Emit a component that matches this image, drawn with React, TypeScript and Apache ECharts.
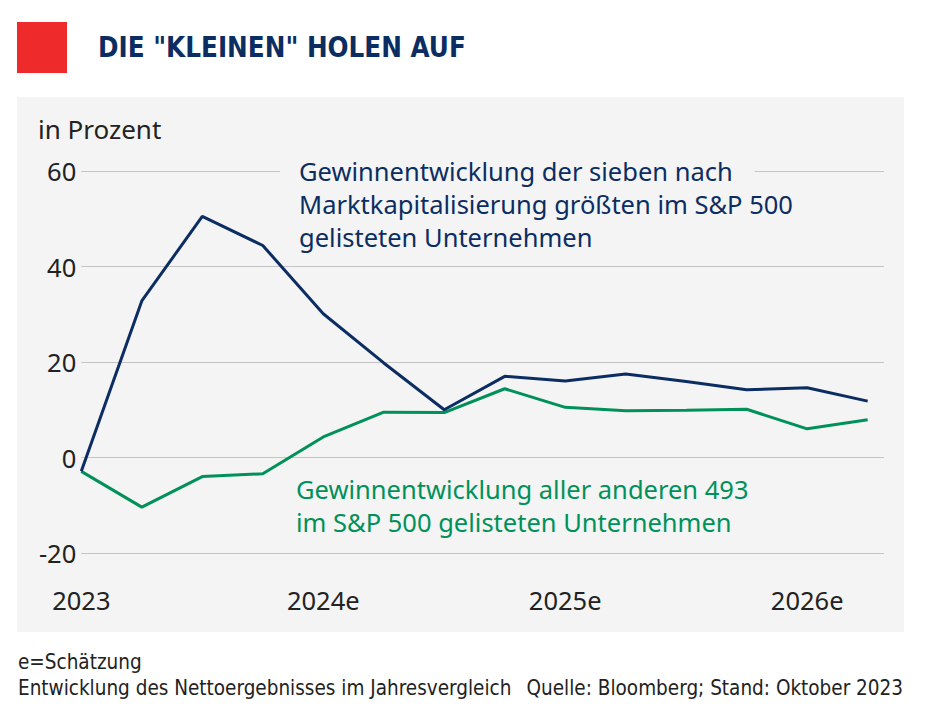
import React, { useEffect, useRef } from "react";
import * as echarts from "echarts";

const quarters = [
  "Q1 2023", "Q2 2023", "Q3 2023", "Q4 2023",
  "Q1 2024e", "Q2 2024e", "Q3 2024e", "Q4 2024e",
  "Q1 2025e", "Q2 2025e", "Q3 2025e", "Q4 2025e",
  "Q1 2026e", "Q2 2026e",
];
const magnificentSeven = [-2.9, 32.8, 50.5, 44.4, 30.1, 19.8, 10.0, 17.0, 16.0, 17.5, 15.9, 14.2, 14.6, 11.8];
const otherCompanies = [-2.9, -10.4, -4.0, -3.4, 4.3, 9.5, 9.4, 14.4, 10.5, 9.8, 9.9, 10.1, 6.0, 7.9];
const yearLabels = ["2023", "2024e", "2025e", "2026e"];
const yTicks = [-20, 0, 20, 40, 60];

const TITLE = 'DIE "KLEINEN" HOLEN AUF';
const UNIT = "in Prozent";
const BLUE_TEXT = [
  "Gewinnentwicklung der sieben nach",
  "Marktkapitalisierung größten im S&P 500",
  "gelisteten Unternehmen",
];
const GREEN_TEXT = [
  "Gewinnentwicklung aller anderen 493",
  "im S&P 500 gelisteten Unternehmen",
];
const NOTE1 = "e=Schätzung";
const NOTE2 = "Entwicklung des Nettoergebnisses im Jahresvergleich";
const SOURCE = "Quelle: Bloomberg; Stand: Oktober 2023";

const NAVY = "#0b2d62";
const GREEN = "#00915a";
const SANS = "'Noto Sans', 'Open Sans', sans-serif";
const NARROW = "'Liberation Sans Narrow', 'DejaVu Sans Condensed', 'Roboto', sans-serif";
const ANNO = 25.5;

export default function App() {
  const ref = useRef<HTMLDivElement>(null);
  useEffect(() => {
    if (!ref.current) return;
    const chart = echarts.init(ref.current, undefined, { renderer: "svg" });
    const option: any = {
      animation: false,
      backgroundColor: "#ffffff",
      grid: { left: 81.3, right: 42, top: 171, bottom: 156, containLabel: false },
      xAxis: {
        type: "value",
        min: 0,
        max: 13.27,
        interval: 4,
        axisLine: { show: false },
        axisTick: { show: false },
        splitLine: { show: false },
        axisLabel: {
          showMaxLabel: false,
          margin: 34,
          fontSize: 25.5,
          color: "#222",
          fontFamily: SANS,
          formatter: (v: number) => (v % 4 === 0 ? yearLabels[v / 4] ?? "" : ""),
        },
      },
      yAxis: {
        type: "value",
        min: yTicks[0],
        max: yTicks[yTicks.length - 1],
        interval: 20,
        axisLine: { show: false },
        axisTick: { show: false },
        splitLine: { show: true, lineStyle: { color: "#c4c4c4", width: 1 } },
        axisLabel: { margin: 5, fontSize: 25.5, color: "#222", fontFamily: SANS },
      },
      series: [
        {
          name: "Magnificent 7",
          type: "line",
          data: quarters.map((_, i) => [i, magnificentSeven[i]]),
          showSymbol: false,
          lineStyle: { color: NAVY, width: 3 },
          itemStyle: { color: NAVY },
          z: 3,
        },
        {
          name: "Übrige 493",
          type: "line",
          data: quarters.map((_, i) => [i, otherCompanies[i]]),
          showSymbol: false,
          lineStyle: { color: GREEN, width: 3 },
          itemStyle: { color: GREEN },
          z: 2,
        },
      ],
      graphic: [
        { type: "rect", z: -10, shape: { x: 17, y: 97, width: 887, height: 535 }, style: { fill: "#f4f4f4" } },
        { type: "rect", z: 1, shape: { x: 17, y: 22, width: 50, height: 51 }, style: { fill: "#ee2a2a" } },
        {
          type: "text", z: 5, x: 98, y: 47.5, scaleX: 0.948,
          style: { text: TITLE, fill: NAVY, font: `bold 29px ${NARROW}`, verticalAlign: "middle" },
        },
        {
          type: "text", z: 5, x: 38, y: 129,
          style: { text: UNIT, fill: "#222", font: `26px ${SANS}`, verticalAlign: "middle" },
        },
        {
          type: "text", z: 5, x: 280, y: 171,
          style: {
            text: BLUE_TEXT[0], fill: NAVY, font: `${ANNO}px ${SANS}`, verticalAlign: "middle",
            backgroundColor: "#f4f4f4", padding: [2, 22, 2, 19],
          },
        },
        {
          type: "text", z: 5, x: 299, y: 204,
          style: { text: BLUE_TEXT[1], fill: NAVY, font: `${ANNO}px ${SANS}`, verticalAlign: "middle" },
        },
        {
          type: "text", z: 5, x: 299, y: 236.5,
          style: { text: BLUE_TEXT[2], fill: NAVY, font: `${ANNO}px ${SANS}`, verticalAlign: "middle" },
        },
        {
          type: "text", z: 5, x: 296, y: 489,
          style: { text: GREEN_TEXT[0], fill: GREEN, font: `${ANNO}px ${SANS}`, verticalAlign: "middle" },
        },
        {
          type: "text", z: 5, x: 296, y: 521.7,
          style: { text: GREEN_TEXT[1], fill: GREEN, font: `${ANNO}px ${SANS}`, verticalAlign: "middle" },
        },
        {
          type: "text", z: 5, x: 18, y: 662,
          style: { text: NOTE1, fill: "#222", font: `20.5px ${NARROW}`, verticalAlign: "middle" },
        },
        {
          type: "text", z: 5, x: 18, y: 688,
          style: { text: NOTE2, fill: "#222", font: `20.5px ${NARROW}`, verticalAlign: "middle" },
        },
        {
          type: "text", z: 5, x: 903, y: 688,
          style: { text: SOURCE, fill: "#222", font: `20.5px ${NARROW}`, verticalAlign: "middle", align: "right" },
        },
      ],
    };
    chart.setOption(option);
    return () => chart.dispose();
  }, []);
  return <div ref={ref} style={{ position: "fixed", left: 0, top: 0, width: 926, height: 709 }} />;
}
